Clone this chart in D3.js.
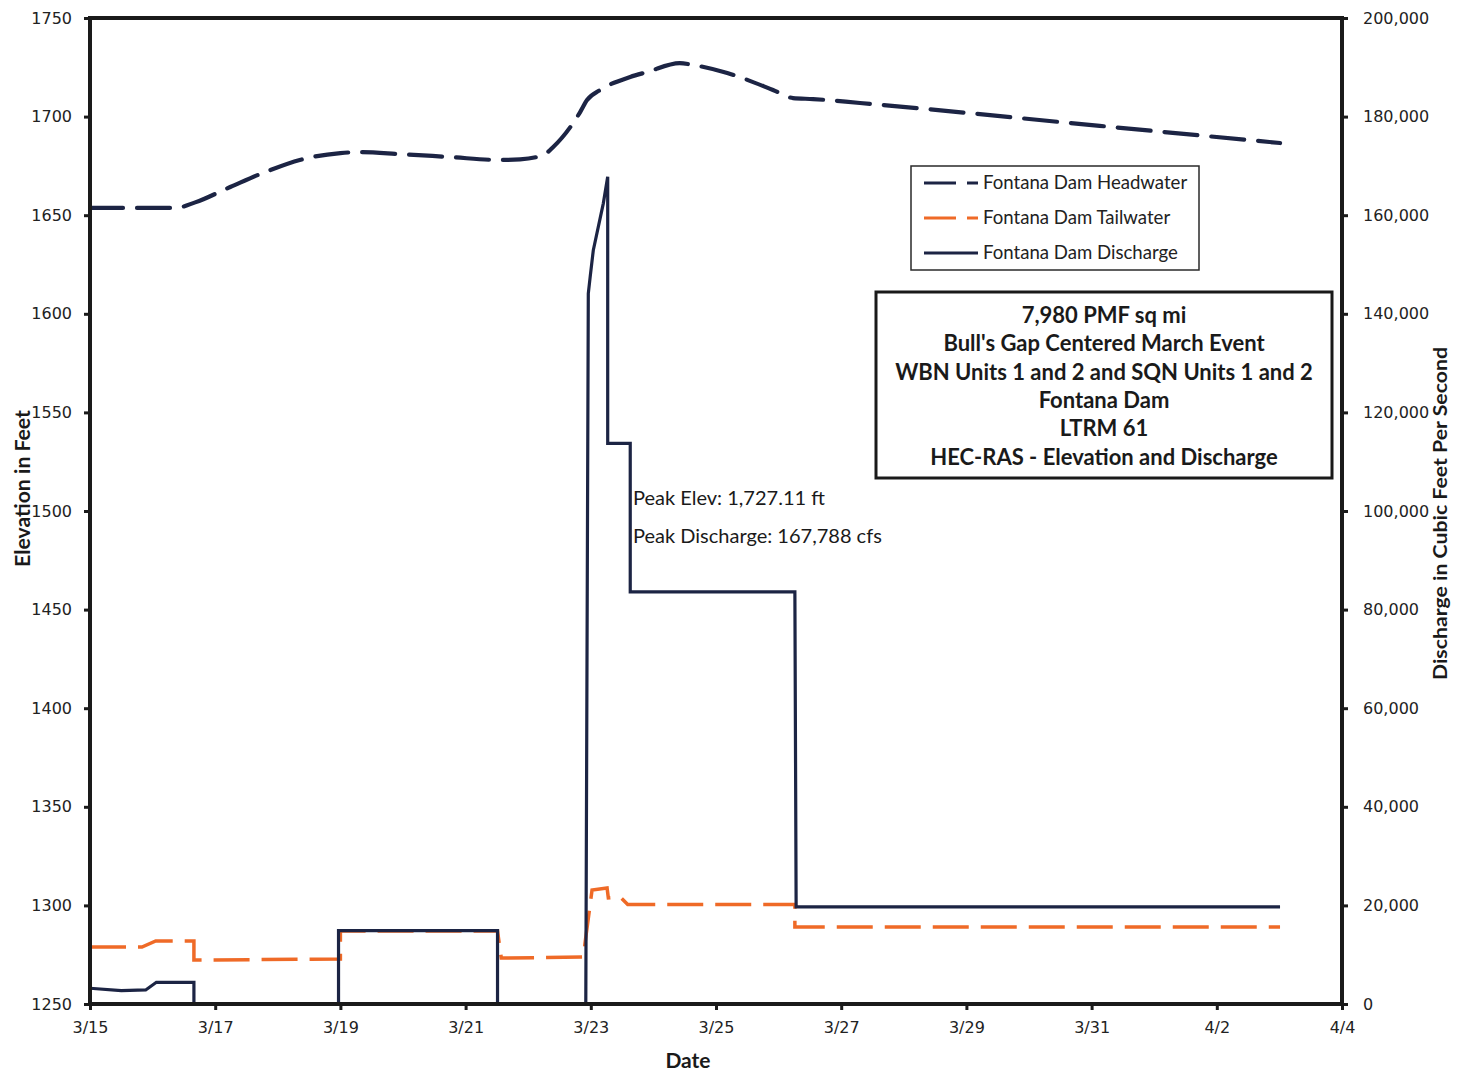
<!DOCTYPE html>
<html>
<head>
<meta charset="utf-8">
<script src="https://cdn.jsdelivr.net/npm/d3@7"></script>
<style>
  html, body { margin: 0; padding: 0; background: #ffffff; }
  svg { display: block; }
</style>
</head>
<body>
<svg id="chart" width="1457" height="1072"></svg>
<script>
// Day offsets are counted from 3/15 (day 0).
const dateTicks = ["3/15", "3/17", "3/19", "3/21", "3/23", "3/25", "3/27", "3/29", "3/31", "4/2", "4/4"];
const elevationTicks = [1250, 1300, 1350, 1400, 1450, 1500, 1550, 1600, 1650, 1700, 1750];
const dischargeTicks = [0, 20000, 40000, 60000, 80000, 100000, 120000, 140000, 160000, 180000, 200000];

const peakElev = 1727.11;
const peakDischarge = 167788;

// Fontana Dam headwater elevation (ft)
const headwaterDays = [0, 1.36, 1.68, 2.24, 2.88, 3.35, 4.0, 4.31, 4.95, 5.75, 6.55, 6.87, 7.24, 7.40, 7.83, 7.94, 8.15, 8.63, 8.90, 9.42, 9.63, 10.18, 10.91, 11.23, 11.55, 12.30, 16.13, 19.01];
const headwaterElev = [1653.7, 1653.7, 1656.5, 1664.3, 1672.9, 1678.0, 1681.5, 1682.0, 1681.0, 1679.5, 1678.0, 1678.3, 1680.5, 1684.6, 1702.3, 1708.4, 1713.5, 1720.1, 1722.6, peakElev, 1726.2, 1722.1, 1713.5, 1709.4, 1708.9, 1706.9, 1695.3, 1686.6];

// Fontana Dam tailwater elevation (ft)
const tailwaterDays = [0, 0.83, 1.05, 1.66, 1.66, 4.0, 4.0, 6.51, 6.57, 7.88, 7.91, 8.02, 8.26, 8.28, 8.47, 8.59, 11.26, 11.26, 19.01];
const tailwaterElev = [1278.9, 1278.9, 1282.0, 1282.0, 1272.3, 1272.8, 1287.0, 1287.0, 1273.3, 1273.8, 1281.4, 1307.8, 1308.8, 1303.8, 1304.3, 1300.5, 1300.5, 1289.1, 1289.1];

// Fontana Dam discharge (cfs)
const dischargeDays = [0, 0.5, 0.89, 1.06, 1.66, 1.66, 3.97, 3.97, 6.51, 6.51, 7.92, 7.96, 7.99, 8.04, 8.20, 8.27, 8.27, 8.63, 8.63, 11.26, 11.28, 19.01];
const dischargeCfs = [3200, 2700, 2850, 4400, 4400, 0, 0, 14900, 14900, 0, 0, 144100, 147500, 152900, 162400, peakDischarge, 113700, 113700, 83600, 83600, 19700, 19700];

const infoLines = [
  "7,980 PMF sq mi",
  "Bull's Gap Centered March Event",
  "WBN Units 1 and 2 and SQN Units 1 and 2",
  "Fontana Dam",
  "LTRM 61",
  "HEC-RAS - Elevation and Discharge"
];

const NAVY = "#1c2444";
const ORANGE = "#ef6a27";
const INK = "#1a1a1a";
const TICK_FONT = "'DejaVu Sans', Verdana, sans-serif";
const TEXT_FONT = "Lato, 'Open Sans', sans-serif";

const svg = d3.select("#chart");
const plot = { left: 90, right: 1342, top: 18, bottom: 1004 };

const x = d3.scaleLinear().domain([0, 20]).range([plot.left, plot.right]);
const yL = d3.scaleLinear().domain([1250, 1750]).range([plot.bottom, plot.top]);
const yR = d3.scaleLinear().domain([0, 200000]).range([plot.bottom, plot.top]);

svg.append("rect").attr("width", 1457).attr("height", 1072).attr("fill", "#ffffff");

// Series lines
const zip = (a, b) => a.map((d, i) => [d, b[i]]);

const hwLine = d3.line().x(d => x(d[0])).y(d => yL(d[1])).curve(d3.curveMonotoneX);
const twLine = d3.line().x(d => x(d[0])).y(d => yL(d[1]));
const qLine = d3.line().x(d => x(d[0])).y(d => yR(d[1]));

svg.append("path")
  .datum(zip(headwaterDays, headwaterElev))
  .attr("d", hwLine)
  .attr("fill", "none")
  .attr("stroke", NAVY)
  .attr("stroke-width", 4.2)
  .attr("stroke-linecap", "round")
  .attr("stroke-dasharray", "33,14");

svg.append("path")
  .datum(zip(tailwaterDays, tailwaterElev))
  .attr("d", twLine)
  .attr("fill", "none")
  .attr("stroke", ORANGE)
  .attr("stroke-width", 3.5)
  .attr("stroke-dasharray", "36,12");

svg.append("path")
  .datum(zip(dischargeDays, dischargeCfs))
  .attr("d", qLine)
  .attr("fill", "none")
  .attr("stroke", NAVY)
  .attr("stroke-width", 3.2)
  .attr("stroke-linejoin", "miter");

// Axes
const styleAxis = g => {
  g.selectAll(".domain").remove();
  g.selectAll(".tick line").attr("stroke", INK).attr("stroke-width", 3);
  g.selectAll(".tick text").attr("fill", "#222").attr("font-family", TICK_FONT).attr("font-size", 16);
};

svg.append("g")
  .attr("transform", `translate(${plot.left},0)`)
  .call(d3.axisLeft(yL).tickValues(elevationTicks).tickSize(6).tickPadding(12).tickFormat(d3.format("d")))
  .call(styleAxis);

svg.append("g")
  .attr("transform", `translate(${plot.right},0)`)
  .call(d3.axisRight(yR).tickValues(dischargeTicks).tickSize(6).tickPadding(15).tickFormat(d3.format(",")))
  .call(styleAxis);

svg.append("g")
  .attr("transform", `translate(0,${plot.bottom})`)
  .call(d3.axisBottom(x).tickValues(dateTicks.map((d, i) => i * 2)).tickSize(6).tickPadding(12).tickFormat((d, i) => dateTicks[i]))
  .call(styleAxis);

// Plot frame
svg.append("rect")
  .attr("x", plot.left).attr("y", plot.top)
  .attr("width", plot.right - plot.left).attr("height", plot.bottom - plot.top)
  .attr("fill", "none").attr("stroke", INK).attr("stroke-width", 4);

// Axis titles
svg.append("text")
  .attr("transform", `translate(30,${(410 + 567) / 2}) rotate(-90)`)
  .attr("text-anchor", "middle")
  .attr("font-family", TEXT_FONT).attr("font-weight", 700).attr("font-size", 21)
  .attr("textLength", 157).attr("lengthAdjust", "spacingAndGlyphs")
  .attr("fill", INK)
  .text("Elevation in Feet");

svg.append("text")
  .attr("transform", `translate(1447,${(347 + 680) / 2}) rotate(-90)`)
  .attr("text-anchor", "middle")
  .attr("font-family", TEXT_FONT).attr("font-weight", 700).attr("font-size", 19)
  .attr("textLength", 333).attr("lengthAdjust", "spacingAndGlyphs")
  .attr("fill", INK)
  .text("Discharge in Cubic Feet Per Second");

svg.append("text")
  .attr("x", 688).attr("y", 1068)
  .attr("text-anchor", "middle")
  .attr("font-family", TEXT_FONT).attr("font-weight", 700).attr("font-size", 21)
  .attr("fill", INK)
  .text("Date");

// Legend
const legend = svg.append("g");
legend.append("rect")
  .attr("x", 911).attr("y", 166).attr("width", 288).attr("height", 104)
  .attr("fill", "#ffffff").attr("stroke", "#2a2a2a").attr("stroke-width", 1.5);

const legendItems = [
  { label: "Fontana Dam Headwater", color: NAVY, dash: "32,11,11,40" },
  { label: "Fontana Dam Tailwater", color: ORANGE, dash: "32,11,11,40" },
  { label: "Fontana Dam Discharge", color: NAVY, dash: null }
];
legendItems.forEach((item, i) => {
  const cy = 183 + i * 35;
  legend.append("line")
    .attr("x1", 924).attr("x2", 978).attr("y1", cy).attr("y2", cy)
    .attr("stroke", item.color).attr("stroke-width", 3.2)
    .attr("stroke-dasharray", item.dash);
  legend.append("text")
    .attr("x", 983).attr("y", cy + 6)
    .attr("font-family", TEXT_FONT).attr("font-size", 18.6)
    .attr("fill", "#222")
    .text(item.label);
});

// Information box
const info = svg.append("g");
info.append("rect")
  .attr("x", 876).attr("y", 292).attr("width", 456).attr("height", 186)
  .attr("fill", "#ffffff").attr("stroke", INK).attr("stroke-width", 3);
infoLines.forEach((line, i) => {
  info.append("text")
    .attr("x", 1104).attr("y", 323 + i * 28.3)
    .attr("text-anchor", "middle")
    .attr("font-family", TEXT_FONT).attr("font-weight", 700).attr("font-size", 22)
    .attr("fill", INK)
    .text(line);
});

// Peak annotations
const fmtElev = d3.format(",.2f");
const fmtQ = d3.format(",");
svg.append("text")
  .attr("x", 633).attr("y", 505)
  .attr("font-family", TEXT_FONT).attr("font-size", 20)
  .attr("fill", INK)
  .text(`Peak Elev: ${fmtElev(peakElev)} ft`);
svg.append("text")
  .attr("x", 633).attr("y", 543)
  .attr("font-family", TEXT_FONT).attr("font-size", 20)
  .attr("fill", INK)
  .text(`Peak Discharge: ${fmtQ(peakDischarge)} cfs`);
</script>
</body>
</html>
